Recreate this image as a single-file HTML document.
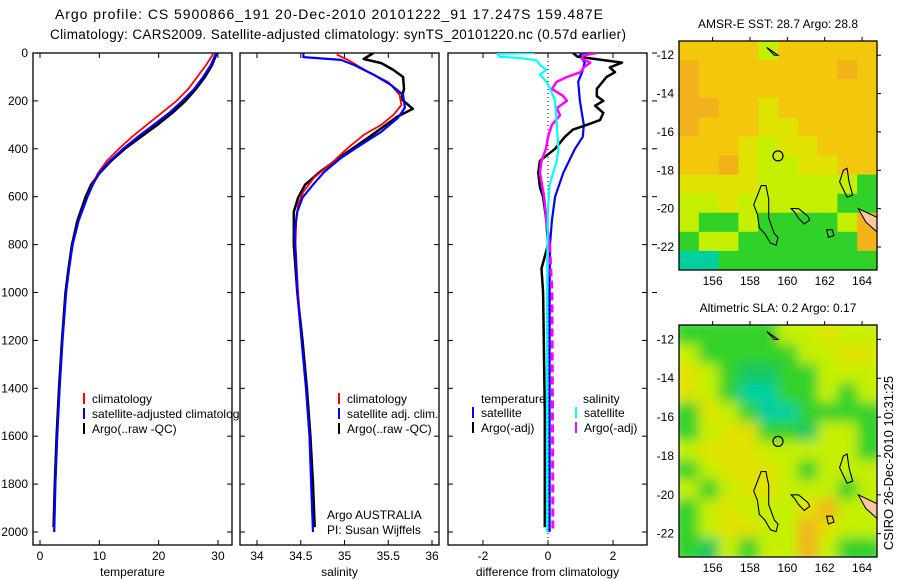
<!DOCTYPE html>
<html><head><meta charset="utf-8"><style>
html,body{margin:0;padding:0;background:#fff;}
svg{display:block;font-family:"Liberation Sans",sans-serif;}
</style></head><body>
<svg id="fig" width="900" height="580" viewBox="0 0 900 580" xmlns="http://www.w3.org/2000/svg">
<defs>
<clipPath id="cp1"><rect x="33" y="53" width="199" height="492"/></clipPath>
<clipPath id="cp2"><rect x="240" y="53" width="199" height="492"/></clipPath>
<clipPath id="cp3"><rect x="448" y="53" width="199" height="492"/></clipPath>
<clipPath id="cm1"><rect x="679" y="41" width="198" height="229"/></clipPath>
<clipPath id="cm2"><rect x="679" y="325" width="198" height="232"/></clipPath>
<filter id="blur" x="-5%" y="-5%" width="110%" height="110%"><feGaussianBlur stdDeviation="6"/></filter>
</defs>
<text x="329" y="19" font-size="14" text-anchor="middle" textLength="548">Argo profile: CS 5900866_191 20-Dec-2010 20101222_91 17.247S 159.487E</text>
<text x="338" y="39" font-size="13.5" text-anchor="middle" textLength="576">Climatology: CARS2009. Satellite-adjusted climatology: synTS_20101220.nc (0.57d earlier)</text>
<g id="p1"></g>
<g id="p2"></g>
<g id="p3"></g>
<g id="m1"></g>
<g id="m2"></g>
<text transform="translate(893,463) rotate(-90)" font-size="13" text-anchor="middle">CSIRO 26-Dec-2010 10:31:25</text>
</svg>
<script>
// ---- profile data ----
const depthTicks=[0,200,400,600,800,1000,1200,1400,1600,1800,2000];
const tDepth=[0,50,100,150,200,250,300,350,400,450,500,550,600,700,800,900,1000,1200,1400,1600,1800,2000];
const tClim=[29.3,28,26.5,25,23,20.5,18,15.5,13.3,11.3,9.8,8.8,8.0,6.5,5.5,4.9,4.4,3.8,3.3,2.9,2.6,2.4];
const tSat=[29.7,28.8,27.5,26,24,21.8,19.2,16.5,14,11.8,10,8.9,8.0,6.5,5.5,4.9,4.4,3.8,3.3,2.9,2.6,2.4];
const tArgoD=[0,50,100,150,200,250,300,350,400,450,500,550,600,700,800,900,1000,1200,1400,1600,1800,1980];
const tArgo=[29.8,29,27.8,26.3,24.5,22.3,19.8,17,14.3,12,10.1,8.6,7.7,6.3,5.4,4.8,4.3,3.7,3.2,2.8,2.5,2.3];
const sClimD=[0,8,29,79,121,175,217,258,300,342,396,454,521,579,633,688,800,1000,1200,1400,1600,1800,2000];
const sClim=[34.92,34.92,35.04,35.27,35.5,35.63,35.65,35.56,35.42,35.22,35.04,34.87,34.65,34.53,34.47,34.45,34.44,34.47,34.51,34.56,34.6,34.62,34.64];
const sSatD=[0,8,17,29,50,92,133,175,229,271,329,383,438,496,550,604,663,746,1000,1200,1400,1600,1800,2000];
const sSat=[34.53,34.53,34.53,34.96,35.11,35.34,35.53,35.67,35.69,35.61,35.42,35.19,34.96,34.77,34.64,34.52,34.46,34.43,34.46,34.51,34.56,34.6,34.62,34.64];
const sArgoD=[0,25,42,71,100,150,192,233,267,354,425,496,550,604,663,800,1000,1200,1400,1600,1800,1980];
const sArgo=[35.33,35.22,35.42,35.56,35.67,35.68,35.65,35.78,35.6,35.27,34.99,34.72,34.55,34.47,34.42,34.42,34.46,34.52,34.57,34.61,34.64,34.66];
const dTSatD=[0,10,40,80,120,200,300,350,400,500,600,700,800,1000,1500,2000];
const dTSat=[1.07,0.98,1.13,1.05,0.93,0.98,1.1,1.07,0.83,0.47,0.22,0.12,0.06,0.05,0.05,0.05];
const dTArgoD=[0,15,40,60,80,100,150,180,200,220,250,280,300,320,350,400,450,500,560,600,700,800,900,1000,1500,1980];
const dTArgo=[0.77,0.9,2.28,1.9,2.06,1.8,1.5,1.5,1.7,1.45,1.7,1.6,1.2,0.77,0.52,0.22,-0.25,-0.3,-0.25,-0.15,-0.05,0,-0.2,-0.15,-0.1,-0.1];
const dSSatD=[0,3,15,20,30,50,70,90,120,160,200,300,400,450,550,650,800,1200,2000];
const dSSat=[-0.4,-1.55,-1.5,-0.95,-0.35,-0.25,-0.05,-0.25,-0.05,0.1,0.22,0.27,0.32,0.27,0.05,0,-0.02,-0.03,-0.03];
const dSArgoD=[0,10,25,40,60,80,100,120,150,180,200,230,260,300,350,400,450,500,600,700,800,1000,1500,2000];
const dSArgo=[1.5,1.07,1.05,1.3,1.1,1.0,0.58,0.27,0.12,0.47,0.58,0.27,0.37,0.12,0,-0.06,-0.2,-0.25,-0.12,-0.05,0.05,0.12,0.14,0.15];
const tTicks=[0,10,20,30];
const sTicks=[34,34.5,35,35.5,36];
const sTickLabels=["34","34.5","35","35.5","36"];
const dTicks=[-2,0,2];
// ---- map data (colour codes per row) ----
const lonTicks=[156,158,160,162,164];
const latTicks=[12,14,16,18,20,22];
const sstRows=["YYYYLYYYYY","OYYYYYYYOY","OYYYYYYYYY","OOYYyYYYYY","OYYYyyYYYY","YYYyLyyYYY","YYOyLLyyYY","yyyyLLLLLG","LLyLLLLLGG","LGGLGGGGLO","GLLGGGGGGO","TTGGGGGGGG"];
const slaRows=["GGGGGLLyLL","LGGGGGLLyy","yLGggGGLLL","yLGTTGGLGL","GyLGTTGGGG","GLyyGGgLLG","LyyyLLLLLG","GLyyyLGLLL","LGLyyLLLGL","GLyLLLyOLL","GLyyLLOyLL","GgLGLLOLGG"];

const NS="http://www.w3.org/2000/svg";
function el(tag,attrs,parent){const e=document.createElementNS(NS,tag);for(const k in attrs)e.setAttribute(k,attrs[k]);parent.appendChild(e);return e;}
const Y0=53,DY=0.2395,BOT=545;
function yD(d){return Y0+d*DY;}

function panel(g,x0,x1,xf,xticks,xlabels,showY,xlabel,cp){
  const fr=el('rect',{x:x0,y:Y0,width:x1-x0,height:BOT-Y0,fill:'#fff',stroke:'#000','stroke-width':1.3},g);
  
  
  xticks.forEach((v,i)=>{
    const x=xf(v);
    el('line',{x1:x,y1:Y0,x2:x,y2:Y0+5,stroke:'#000'},g);
    el('line',{x1:x,y1:BOT,x2:x,y2:BOT-5,stroke:'#000'},g);
    const t=el('text',{x:x,y:BOT+15,'font-size':12,'text-anchor':'middle'},g);
    t.textContent=xlabels[i];
    
    
  });
  depthTicks.forEach(d=>{
    const y=yD(d);
    el('line',{x1:x0,y1:y,x2:x0+5,y2:y,stroke:'#000'},g);
    el('line',{x1:x1,y1:y,x2:x1-5,y2:y,stroke:'#000'},g);
    if(showY){const t=el('text',{x:x0-5,y:y+4,'font-size':12,'text-anchor':'end'},g);t.textContent=d;
      
      }
  });
  const xl=el('text',{x:(x0+x1)/2,y:576,'font-size':12,'text-anchor':'middle'},g);
  xl.textContent=xlabel;
  
  
  return el('g',{'clip-path':'url(#'+cp+')'},g);
}
function line(g,xf,ds,vs,col,w,name,dash){
  const pts=ds.map((d,i)=>xf(vs[i]).toFixed(1)+','+yD(d).toFixed(1)).join(' ');
  const p=el('polyline',{points:pts,fill:'none',stroke:col,'stroke-width':w,'stroke-linejoin':'round'},g);
  if(dash)p.setAttribute('stroke-dasharray',dash);
  
  
}
function legend(g,x,y,col,txt){
  el('line',{x1:x,y1:y-10,x2:x,y2:y+1,stroke:col,'stroke-width':2},g);
  const t=el('text',{x:x+8,y:y,'font-size':12},g);t.textContent=txt;
  
  
}
const xT=v=>40+v*5.933, xS=v=>257+(v-34)*87.5, xDf=v=>548+v*32.5;

// panel 1
const g1=document.getElementById('p1');
const c1=panel(g1,33,232,xT,tTicks,tTicks.map(String),true,'temperature','cp1');
line(c1,xT,tArgoD,tArgo,'#000',2.5,'temp-argo-line');
line(c1,xT,tDepth,tClim,'#f00',1.8,'temp-climatology-line');
line(c1,xT,tDepth,tSat,'#00f',2.2,'temp-satellite-line');
legend(g1,84,403,'#f00','climatology');
legend(g1,84,418,'#00f','satellite-adjusted climatology');
legend(g1,84,433,'#000','Argo(..raw -QC)');
// panel 2
const g2=document.getElementById('p2');
const c2=panel(g2,240,439,xS,sTicks,sTickLabels,false,'salinity','cp2');
line(c2,xS,sArgoD,sArgo,'#000',2.5,'sal-argo-line');
line(c2,xS,sClimD,sClim,'#f00',1.8,'sal-climatology-line');
line(c2,xS,sSatD,sSat,'#00f',2.2,'sal-satellite-line');
legend(g2,339,403,'#f00','climatology');
legend(g2,339,418,'#00f','satellite adj. clim.');
legend(g2,339,433,'#000','Argo(..raw -QC)');
const a1=el('text',{x:327,y:519,'font-size':12},g2);a1.textContent='Argo AUSTRALIA';


const a2=el('text',{x:327,y:534,'font-size':12},g2);a2.textContent='PI: Susan Wijffels';


// panel 3
const g3=document.getElementById('p3');
const c3=panel(g3,448,647,xDf,dTicks,dTicks.map(String),false,'difference from climatology','cp3');
el('line',{x1:xDf(0),y1:Y0,x2:xDf(0),y2:BOT,stroke:'#000','stroke-dasharray':'1,3'},c3);
line(c3,xDf,dTSatD,dTSat,'#00f',2.2,'diff-temp-satellite-line');
line(c3,xDf,dTArgoD,dTArgo,'#000',2.5,'diff-temp-argo-line');
const shallow=dSArgoD.filter(d=>d<=800), deepIdx=dSArgoD.map((d,i)=>i).filter(i=>dSArgoD[i]>=800);
line(c3,xDf,shallow,dSArgo.slice(0,shallow.length),'#f0f',2.5,'diff-sal-argo-line');
line(c3,xDf,deepIdx.map(i=>dSArgoD[i]),deepIdx.map(i=>dSArgo[i]),'#f0f',3,'diff-sal-argo-deep-line','8,4');
line(c3,xDf,dSSatD,dSSat,'#0ff',2.2,'diff-sal-satellite-line');
const lt=el('text',{x:481,y:403,'font-size':12},g3);lt.textContent='temperature';


const ls=el('text',{x:583,y:403,'font-size':12},g3);ls.textContent='salinity';


legend(g3,473,417,'#00f','satellite');
legend(g3,473,432,'#000','Argo(-adj)');
legend(g3,576,417,'#0ff','satellite');
legend(g3,576,432,'#f0f','Argo(-adj)');
depthTicks.slice(0,6).forEach(d=>el('line',{x1:652,y1:yD(d),x2:657,y2:yD(d),stroke:'#000'},g3));

// ---- maps ----
const PAL={O:'#f2b21c',Y:'#f3c80c',y:'#e0e200',L:'#c4f000',G:'#30d22a',g:'#18c860',T:'#00d0a0'};
function map(g,top,bot,rows,cp,title,blur){
  const x0=679,x1=877,lon0=154.2,lon1=164.8,lat0=11.26,lat1=23.2;
  const xf=v=>x0+(v-lon0)/(lon1-lon0)*(x1-x0);
  const yf=v=>top+(v-lat0)/(lat1-lat0)*(bot-top);
  const cg=el('g',{'clip-path':'url(#'+cp+')'},g);
  const fg=el('g',blur?{filter:'url(#blur)'}:{},cg);
  const cw=(x1-x0)/10,ch=(bot-top)/12;
  rows.forEach((r,i)=>{for(let j=0;j<r.length;j++){
    const c=el('rect',{x:x0+j*cw-(blur?6:0)*(j==0),y:top+i*ch-(blur?6:0)*(i==0),width:cw+0.6+(blur&&(j==0||j==9)?6:0),height:ch+0.6+(blur&&(i==0||i==11)?6:0),fill:PAL[r[j]]},fg);
    
    
  }});
  const isl=[[[158.6,18.8],[158.85,18.8],[159.0,19.5],[159.0,20.5],[159.3,21.3],[159.5,21.5],[159.4,21.9],[159.1,21.8],[158.8,21.3],[158.5,21.0],[158.4,20.3],[158.2,19.8],[158.4,19.3]],
    [[163.0,18.0],[163.2,17.9],[163.3,18.6],[163.5,19.3],[163.2,19.4],[162.8,18.6]],
    [[160.2,20.0],[160.6,20.0],[161.1,20.4],[161.2,20.6],[160.9,20.8],[160.6,20.5],[160.4,20.2]],
    [[162.1,21.1],[162.4,21.1],[162.5,21.4],[162.2,21.5]],
    [[158.9,11.6],[159.5,12.0],[159.3,12.0]]];
  isl.forEach(p=>{const s=el('polygon',{points:p.map(q=>xf(q[0]).toFixed(1)+','+yf(q[1]).toFixed(1)).join(' '),fill:'none',stroke:'#000','stroke-width':1.1},cg);
    
    });
  const nc=el('polygon',{points:[[163.8,20.0],[164.9,20.5],[164.9,21.3],[164.2,20.7]].map(q=>xf(q[0])+','+yf(q[1])).join(' '),fill:'#f8c8a0',stroke:'#000'},cg);
  
  
  const ci=el('circle',{cx:xf(159.5),cy:yf(17.25),r:5,fill:'none',stroke:'#000','stroke-width':1.2},g);
  
  
  el('rect',{x:x0,y:top,width:x1-x0,height:bot-top,fill:'none',stroke:'#000','stroke-width':1.3},g);
  lonTicks.forEach(v=>{const x=xf(v);
    el('line',{x1:x,y1:top,x2:x,y2:top-4,stroke:'#000'},g);
    const t=el('text',{x:x,y:bot+15,'font-size':12,'text-anchor':'middle'},g);t.textContent=v;
    
    });
  latTicks.forEach(v=>{const y=yf(v);
    el('line',{x1:x1,y1:y,x2:x1+4,y2:y,stroke:'#000'},g);
    const t=el('text',{x:x0-5,y:y+4,'font-size':12,'text-anchor':'end'},g);t.textContent='-'+v;
    
    });
  const tt=el('text',{x:(x0+x1)/2,y:top-13,'font-size':12,'text-anchor':'middle'},g);tt.textContent=title;
  
  
}
map(document.getElementById('m1'),41,270,sstRows,'cm1','AMSR-E SST: 28.7 Argo: 28.8',false);
map(document.getElementById('m2'),325,557,slaRows,'cm2','Altimetric SLA: 0.2 Argo: 0.17',true);
</script>
</body></html>
